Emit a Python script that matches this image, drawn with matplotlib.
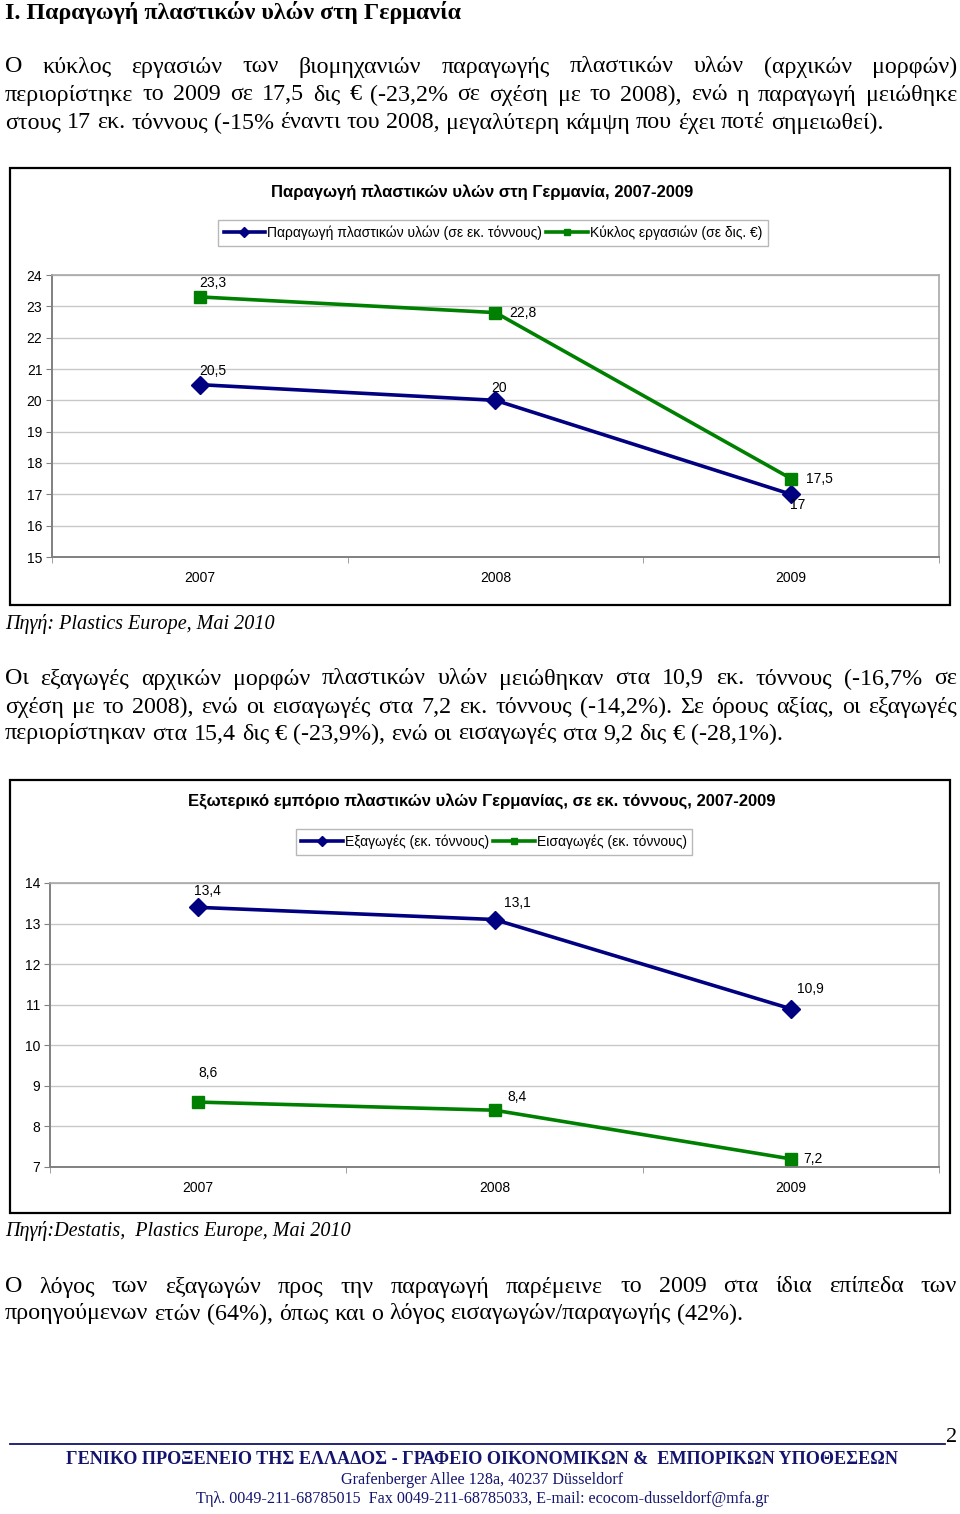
import numpy as np
import matplotlib.pyplot as plt
from matplotlib.patches import Rectangle
from matplotlib.lines import Line2D

# data
years = ['2007', '2008', '2009']
production = [20.5, 20, 17]        # εκ. τόννοι
turnover = [23.3, 22.8, 17.5]      # δις €
exports = [13.4, 13.1, 10.9]
imports = [8.6, 8.4, 7.2]

prod_ticks = list(range(15, 25))
trade_ticks = list(range(7, 15))

W, H = 960, 1514
fig = plt.figure(figsize=(W / 100, H / 100), dpi=100)
renderer = fig.canvas.get_renderer()

SERIF = 'Liberation Serif'
SANS = 'Liberation Sans'
NAVY = '#000080'
GREEN = '#008000'
FOOT = '#14146e'
BODY = 17.3


def fx(x):
    return x / W


def fy(y):
    return 1 - y / H


def put_line(line, y, size=BODY, justify=True, x0=5, x1=957, **kw):
    words = line.split(' ')
    texts = [fig.text(0, 0, w, fontsize=size, family=SERIF, va='center', ha='left', **kw)
             for w in words]
    widths = [t.get_window_extent(renderer).width for t in texts]
    if justify and len(words) > 1:
        gap = (x1 - x0 - sum(widths)) / (len(words) - 1)
    else:
        gap = size * 100 / 72 * 0.25
    x = x0
    for t, w in zip(texts, widths):
        t.set_position((fx(x), fy(y)))
        x += w + gap


# heading + first paragraph
fig.text(fx(5), fy(13), 'I. Παραγωγή πλαστικών υλών στη Γερμανία', fontsize=17.3,
         family=SERIF, fontweight='bold', va='center')
put_line('Ο κύκλος εργασιών των βιομηχανιών παραγωγής πλαστικών υλών (αρχικών μορφών)', 67)
put_line('περιορίστηκε το 2009 σε 17,5 δις € (-23,2% σε σχέση με το 2008), ενώ η παραγωγή μειώθηκε', 95)
put_line('στους 17 εκ. τόννους (-15% έναντι του 2008, μεγαλύτερη κάμψη που έχει ποτέ σημειωθεί).', 123,
         justify=False)


def fmt(v):
    return f'{v:g}'.replace('.', ',')


def draw_chart(box, area, title, title_y, legend_xy, series, ticks, offsets):
    # outer frame of the chart object
    bx0, by0, bx1, by1 = box
    fig.add_artist(Rectangle((fx(bx0), fy(by1)), (bx1 - bx0) / W, (by1 - by0) / H,
                             transform=fig.transFigure, fill=False, edgecolor='black', lw=1.6))
    fig.text(fx((bx0 + bx1) / 2 + 2), fy(title_y), title, family=SANS, fontsize=12,
             fontweight='bold', ha='center', va='center')

    ax0, ay0, ax1, ay1 = area
    ax = fig.add_axes([fx(ax0), fy(ay1), (ax1 - ax0) / W, (ay1 - ay0) / H])
    xs = np.arange(len(years)) + 0.5
    handles = []
    for (vals, lab, col, mk, ms), offs in zip(series, offsets):
        ax.plot(xs, vals, color=col, lw=2.6, marker=mk, markersize=ms, zorder=3)
        for x, v, (dx, dy) in zip(xs, vals, offs):
            ax.annotate(fmt(v), (x, v), xytext=(dx * 0.72, -dy * 0.72), textcoords='offset points',
                        ha='center', va='center', fontsize=10, family=SANS)
        handles.append(Line2D([], [], color=col, lw=2.6, marker=mk, markersize=ms * 0.55))

    ax.set_xlim(0, len(years))
    ax.set_ylim(ticks[0], ticks[-1])
    ax.set_yticks(ticks)
    ax.set_yticklabels([str(t) for t in ticks], family=SANS, fontsize=10)
    ax.set_xticks(xs)
    ax.set_xticklabels(years, family=SANS, fontsize=10)
    ax.set_xticks(np.arange(len(years) + 1), minor=True)
    ax.tick_params(axis='x', which='major', length=0, pad=10)
    ax.tick_params(axis='x', which='minor', length=4, color='#909090')
    ax.tick_params(axis='y', length=4, color='#808080', pad=3)
    ax.grid(axis='y', color='#c8c8c8', lw=1)
    ax.set_axisbelow(True)
    for s in ['left', 'bottom']:
        ax.spines[s].set_color('#808080')
        ax.spines[s].set_linewidth(1.4)
    for s in ['top', 'right']:
        ax.spines[s].set_color('#a8a8a8')
        ax.spines[s].set_linewidth(1.2)

    ax.legend(handles, [s[1] for s in series], loc='center',
              bbox_to_anchor=(fx(legend_xy[0]), fy(legend_xy[1])), bbox_transform=fig.transFigure,
              ncol=2, fancybox=False, edgecolor='#b8b8b8', framealpha=1,
              prop={'family': SANS, 'size': 10}, handlelength=3, handletextpad=0.15,
              columnspacing=0.3, borderpad=0.4)
    return ax


draw_chart((10, 168, 950, 605), (52, 275, 939, 557),
           'Παραγωγή πλαστικών υλών στη Γερμανία, 2007-2009', 192, (493, 233),
           [(production, 'Παραγωγή πλαστικών υλών (σε εκ. τόννους)', NAVY, 'D', 9),
            (turnover, 'Κύκλος εργασιών (σε δις. €)', GREEN, 's', 8.5)],
           prod_ticks,
           [[(13, -14), (4, -12), (7, 11)], [(13, -14), (27, 0), (28, 0)]])

fig.text(fx(5), fy(624), 'Πηγή: Plastics Europe, Mai 2010', family=SERIF, fontsize=14.5,
         style='italic', va='center')

put_line('Οι εξαγωγές αρχικών μορφών πλαστικών υλών μειώθηκαν στα 10,9 εκ. τόννους (-16,7% σε', 679)
put_line('σχέση με το 2008), ενώ οι εισαγωγές στα 7,2 εκ. τόννους (-14,2%). Σε όρους αξίας, οι εξαγωγές', 707)
put_line('περιορίστηκαν στα 15,4 δις € (-23,9%), ενώ οι εισαγωγές στα 9,2 δις € (-28,1%).', 734,
         justify=False)

draw_chart((10, 780, 950, 1213), (50, 883, 939, 1167),
           'Εξωτερικό εμπόριο πλαστικών υλών Γερμανίας, σε εκ. τόννους, 2007-2009', 802, (494, 842),
           [(exports, 'Εξαγωγές (εκ. τόννους)', NAVY, 'D', 9),
            (imports, 'Εισαγωγές (εκ. τόννους)', GREEN, 's', 8.5)],
           trade_ticks,
           [[(9, -16), (23, -17), (20, -20)], [(10, -29), (23, -13), (22, 0)]])

fig.text(fx(5), fy(1231), 'Πηγή:Destatis,  Plastics Europe, Mai 2010', family=SERIF, fontsize=14.5,
         style='italic', va='center')

put_line('Ο λόγος των εξαγωγών προς την παραγωγή παρέμεινε το 2009 στα ίδια επίπεδα των', 1287)
put_line('προηγούμενων ετών (64%), όπως και ο λόγος εισαγωγών/παραγωγής (42%).', 1314, justify=False)

# footer
fig.add_artist(Line2D([fx(10), fx(945)], [fy(1444), fy(1444)], transform=fig.transFigure,
                      color=FOOT, lw=1.3))
fig.text(fx(952), fy(1437), '2', family=SERIF, fontsize=16, ha='center', va='center')
fig.text(fx(482), fy(1460), 'ΓΕΝΙΚΟ ΠΡΟΞΕΝΕΙΟ ΤΗΣ ΕΛΛΑΔΟΣ - ΓΡΑΦΕΙΟ ΟΙΚΟΝΟΜΙΚΩΝ &  ΕΜΠΟΡΙΚΩΝ ΥΠΟΘΕΣΕΩΝ',
         family=SERIF, fontsize=13.1, fontweight='bold', color=FOOT, ha='center', va='center')
fig.text(fx(482), fy(1480), 'Grafenberger Allee 128a, 40237 Düsseldorf',
         family=SERIF, fontsize=11.6, color=FOOT, ha='center', va='center')
fig.text(fx(482), fy(1499), 'Τηλ. 0049-211-68785015  Fax 0049-211-68785033, E-mail: ecocom-dusseldorf@mfa.gr',
         family=SERIF, fontsize=11.6, color=FOOT, ha='center', va='center')

fig.savefig('out.png', dpi=100)
